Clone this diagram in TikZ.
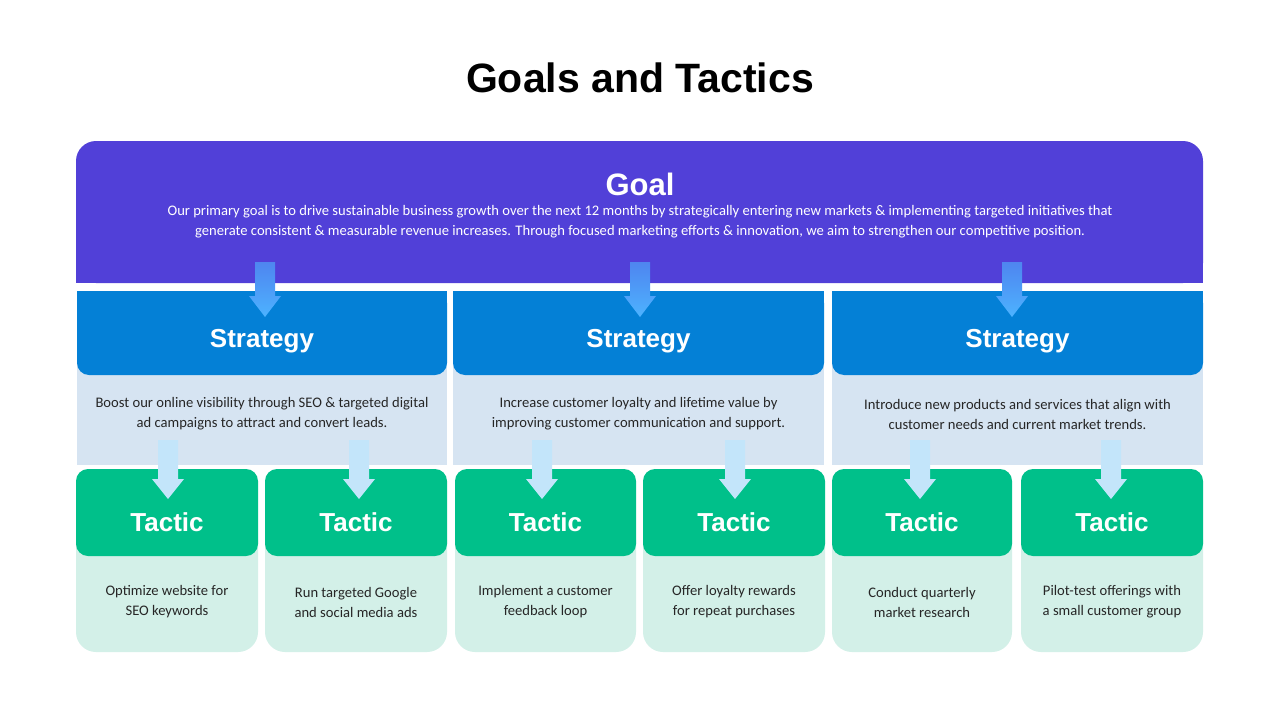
\documentclass[tikz,border=0pt]{standalone}
\usepackage{fontspec}
\setmainfont{Carlito}
\newfontfamily\hd{Liberation Sans}
\begin{document}
\begin{tikzpicture}[x=1pt,y=-1pt,
  body/.style={font=\fontsize{14.6}{20}\selectfont,align=center,text=black!85},
  head/.style={font=\hd\bfseries\fontsize{26}{30}\selectfont,text=white}]
\definecolor{goalc}{HTML}{5140D8}
\definecolor{stratc}{HTML}{0480D6}
\definecolor{stratl}{HTML}{D6E4F2}
\definecolor{tacc}{HTML}{00C08A}
\definecolor{tacl}{HTML}{D3F0E8}
\definecolor{arrA}{HTML}{4DB3FF}
\definecolor{arrB}{HTML}{C3E5FA}
\useasboundingbox (0,0) rectangle (1280,720);
\fill[white] (0,0) rectangle (1280,720);
\node (title) at (640,78) {\hd\bfseries\fontsize{41}{44}\selectfont Goals and Tactics};
% goal
\fill[goalc,rounded corners=20] (76,141) rectangle (1203,283);
\fill[goalc] (76,200) rectangle (1203,283);
\node[head,font=\hd\bfseries\fontsize{31}{34}\selectfont] (goal) at (640,184) {Goal};
\node[body,text=white] (goaltxt) at (640,222) {Our primary goal is to drive sustainable business growth over the next 12 months by strategically entering new markets \& implementing targeted initiatives that\\generate consistent \& measurable revenue increases. Through focused marketing efforts \& innovation, we aim to strengthen our competitive position.};
% strategies
\foreach \l/\r/\t [count=\i] in {77/447/{Boost our online visibility through SEO \& targeted digital\\ad campaigns to attract and convert leads.},453/824/{Increase customer loyalty and lifetime value by\\improving customer communication and support.},832/1203/{Introduce new products and services that align with\\customer needs and current market trends.}}{
  \fill[stratl] (\l,360) rectangle (\r,465);
  \fill[stratc,rounded corners=12] (\l,291) rectangle (\r,375);
  \fill[stratc] (\l,291) rectangle (\r,330);
  \node[head] (s\i) at ({(\l+\r)/2},341) {Strategy};
  \node[body] (st\i) at ({(\l+\r)/2},414) {\t};
}
% tactics
\foreach \l/\r/\t [count=\i] in {76/258/{Optimize website for\\SEO keywords},265/447/{Run targeted Google\\and social media ads},455/636/{Implement a customer\\feedback loop},643/825/{Offer loyalty rewards\\for repeat purchases},832/1012/{Conduct quarterly\\market research},1021/1203/{Pilot-test offerings with\\a small customer group}}{
  \fill[tacl,rounded corners=20] (\l,520) rectangle (\r,652);
  \fill[tacc,rounded corners=12] (\l,469) rectangle (\r,556);
  \node[head] (t\i) at ({(\l+\r)/2},522) {Tactic};
  \node[body] (tt\i) at ({(\l+\r)/2},602) {\t};
}
% arrows goal -> strategy
\foreach \x in {265,640,1012}{
  \shade[top color=goalc!40!arrA,bottom color=arrA] (\x-10,262) -- (\x+10,262) -- (\x+10,296) -- (\x+16,296) -- (\x,317) -- (\x-16,296) -- (\x-10,296) -- cycle;
}
% arrows strategy -> tactic
\foreach \x in {168,359,542,735,920,1111}{
  \fill[arrB] (\x-10,440) -- (\x+10,440) -- (\x+10,479) -- (\x+16,479) -- (\x,499) -- (\x-16,479) -- (\x-10,479) -- cycle;
}
\end{tikzpicture}
\end{document}
